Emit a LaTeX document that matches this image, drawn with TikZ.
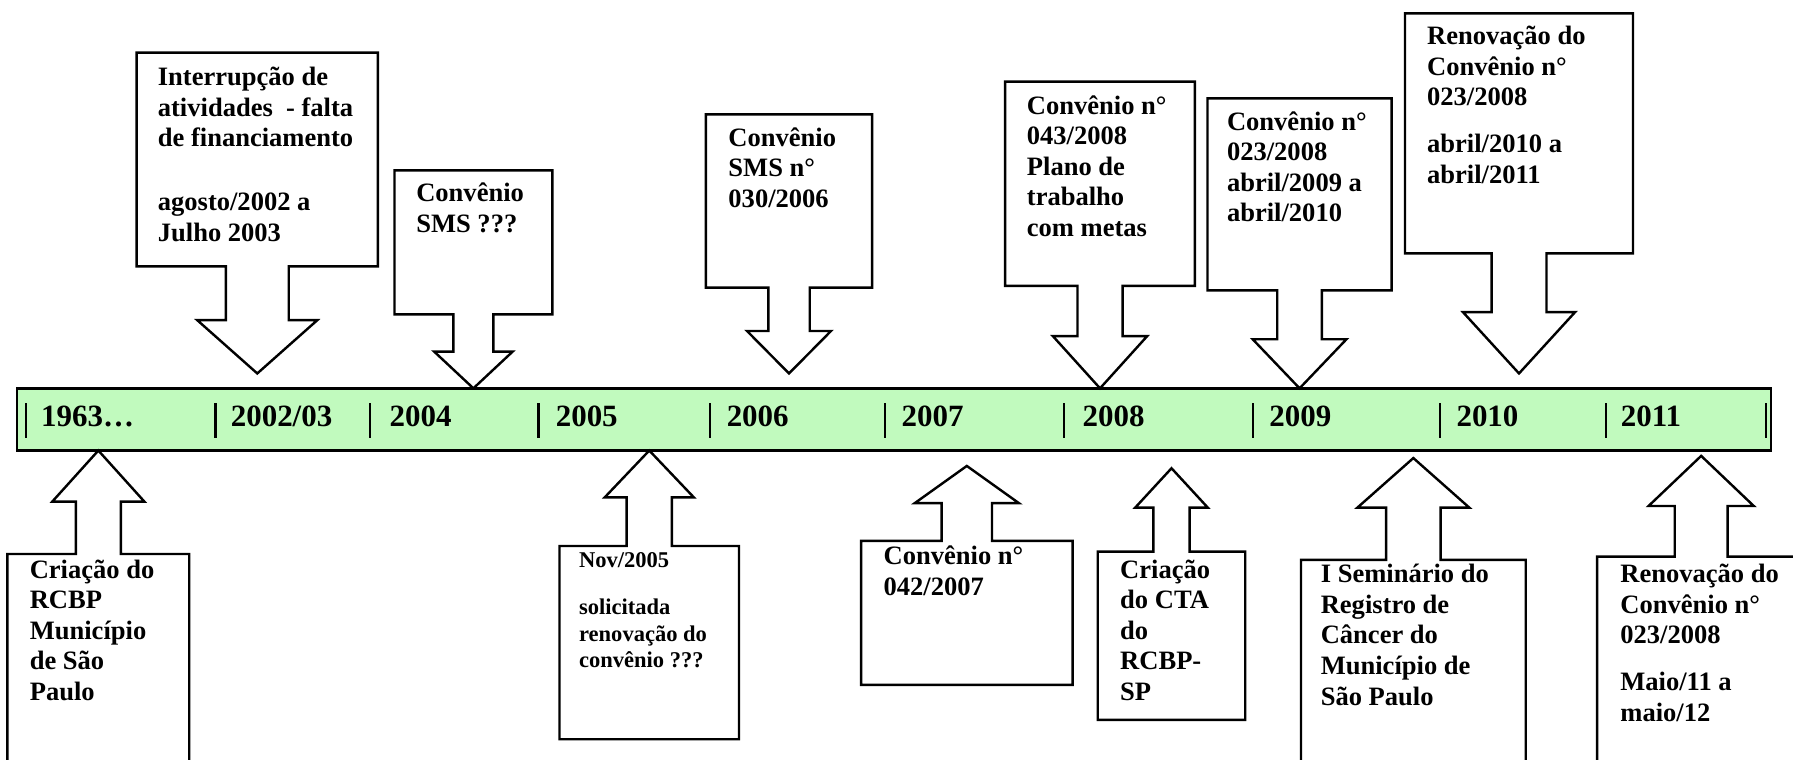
\documentclass[tikz,border=0pt]{standalone}
\usepackage{fontspec}
\setmainfont{Liberation Serif}
\definecolor{barfill}{RGB}{193,250,190}

\begin{document}
\begin{tikzpicture}[semithick, x=0.01cm, y=0.01cm,
  txt/.style={anchor=north west, inner sep=0pt, align=left,
    font=\fontsize{6.6}{7.6}\selectfont\bfseries,
    execute at begin node={\rule{0pt}{6.2pt}}},
  small/.style={txt, font=\fontsize{5.6}{6.6}\selectfont\bfseries,
    execute at begin node={\rule{0pt}{5.3pt}}},
  yr/.style={anchor=base west, inner sep=0pt, font=\fontsize{7.7}{9}\selectfont\bfseries},
  callout/.style={draw, fill=white, line join=miter}]
  \useasboundingbox (0,0) rectangle (1568,664);
  \clip (0,0) rectangle (1568,664);

  \draw[fill=barfill] (15,270) rectangle (1549,324.4);
  \foreach \x in {22.7,188.4,323.6,471,620.7,774,930.5,1095.8,1259.3,1404.3,1544.6}
    \draw[line width=0.55pt] (\x,281) -- (\x,311.2);
  \foreach \x/\yr [count=\i] in {35/1963…, 200.8/{2002/03}, 339.7/2004, 485/2005,
      634.5/2006, 787.4/2007, 945.7/2008, 1109/2009, 1272.7/2010, 1416.5/2011}
    \node[yr] (y\i) at (\x,291) {\yr};

  \foreach \cx/\w/\far/\near/\s/\h/\hb/\tip in {
      225/105.5/618/431/27.5/52.5/384/337.4,
      414/69/515/389/17.5/34.3/356.5/324.4,
      690/72.7/564/412.4/18.1/36.7/374.5/337.4,
      962/83/592.6/414/19.7/41.2/370/324.4,
      1136.5/80.5/578/410/19.5/41/367.3/324.4,
      1328.4/99.7/652.3/442.4/24/49/391/337.4,
      86/79.5/-36/179.5/19.7/40.3/225.3/270,
      567.8/78.5/17.5/186.5/19.8/39/229/270,
      845.5/92.5/65/191/22/45.5/224/256.5,
      1024.5/64.5/34.4/181.6/15.8/31.8/220/254.5,
      1236/98.3/-36/174.3/23.8/49/220/263.4,
      1487.7/91/-36/177.2/23.1/46/221.5/265.3}
    \draw[callout] (\cx-\w,\far) -- (\cx+\w,\far) -- (\cx+\w,\near) -- (\cx+\s,\near)
      -- (\cx+\s,\hb) -- (\cx+\h,\hb) -- (\cx,\tip) -- (\cx-\h,\hb) -- (\cx-\s,\hb)
      -- (\cx-\s,\near) -- (\cx-\w,\near) -- cycle;

  \node[txt] (interrupcao) at (137,606.5) {Interrupção de\\atividades\ \ - falta\\de financiamento\\[8.3pt]agosto/2002 a\\Julho 2003};
  \node[txt] (sms) at (363,505) {Convênio\\SMS ???};
  \node[txt] (sms030) at (636,553.5) {Convênio\\SMS n°\\030/2006};
  \node[txt] (conv043) at (897,581.5) {Convênio n°\\043/2008\\Plano de\\trabalho\\com metas};
  \node[txt] (conv023) at (1072,567.5) {Convênio n°\\023/2008\\abril/2009 a\\abril/2010};
  \node[txt] (renov10) at (1247,642) {Renovação do\\Convênio n°\\023/2008\\[4pt]abril/2010 a\\abril/2011};

  \node[txt] (criacao) at (25,175.5) {Criação do\\RCBP\\Município\\de São\\Paulo};
  \node[small] (nov) at (505.4,181.5) {Nov/2005\\[5pt]solicitada\\renovação do\\convênio ???};
  \node[txt] (conv042) at (771.7,187.5) {Convênio n°\\042/2007};
  \node[txt] (cta) at (978.6,175.5) {Criação\\do CTA\\do\\RCBP-\\SP};
  \node[txt] (seminario) at (1154,171.5) {I Seminário do\\Registro de\\Câncer do\\Município de\\São Paulo};
  \node[txt] (renov11) at (1416,171.5) {Renovação do\\Convênio n°\\023/2008\\[4pt]Maio/11 a\\maio/12};

\end{tikzpicture}
\end{document}
